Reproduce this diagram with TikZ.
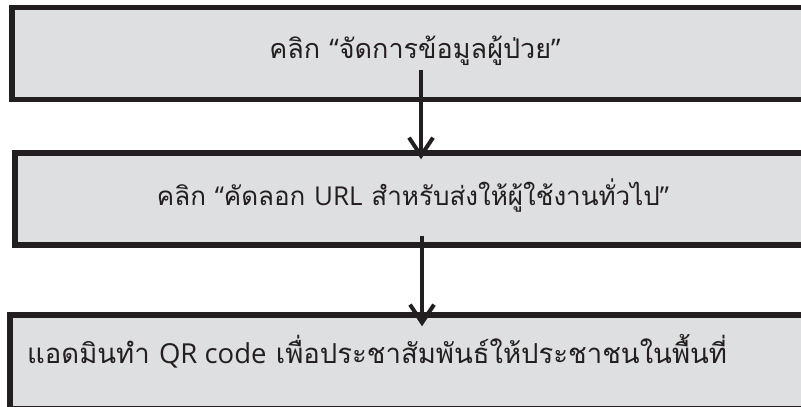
\documentclass[tikz,border=0pt]{standalone}
\usepackage{fontspec}
\newfontfamily\thaifont[Script=Thai]{Loma}
\newfontfamily\latinfont{Open Sans}
\newcommand{\lat}[1]{{\latinfont #1}}
\usetikzlibrary{arrows.meta,calc}
\definecolor{boxfill}{HTML}{DEDFE1}
\definecolor{ink}{HTML}{231F20}
\tikzset{
  stepbox/.style={draw=ink, fill=boxfill, line width=5.5pt, inner sep=0pt, rectangle},
  steptext/.style={anchor=base, inner sep=0pt, text=ink, font=\thaifont\fontsize{26}{30}\selectfont},
  flow/.style={draw=ink, line width=4pt, -{Straight Barb[length=18pt 0 0, width=24pt 0 0, line width=4pt]}}
}
\begin{document}
\begin{tikzpicture}[x=1pt,y=-1pt]
\useasboundingbox (0,0) rectangle (801,407);
\begin{scope}
\clip (0,0) rectangle (801,407);
\node[stepbox, minimum width=806pt, minimum height=92pt] (b1) at (415,53.5) {};
\node[stepbox, minimum width=796pt, minimum height=92pt] (b2) at (413,199) {};
\node[stepbox, minimum width=806pt, minimum height=94pt] (b3) at (413,362) {};
\end{scope}
\node[steptext, font=\thaifont\fontsize{27}{31}\selectfont] (t1) at (415,58) {คลิก \lat{“}จัดการข้อมูลผู้ป่วย\lat{”}};
\node[steptext] (t2) at (413,205) {คลิก \lat{“}คัดลอก \lat{URL} สำหรับส่งให้ผู้ใช้งานทั่วไป\lat{”}};
\node[steptext, anchor=base west, font=\thaifont\fontsize{27.5}{32}\selectfont] (t3) at (27,363) {แอดมินทำ \lat{QR code} เพื่อประชาสัมพันธ์ให้ประชาชนในพื้นที่};
\coordinate (a1s) at (421,70);
\coordinate (a2s) at (422,236);
\draw[flow] (a1s) -- ([yshift=-9pt]b2.north -| a1s);
\draw[flow] (a2s) -- ([yshift=-14pt]b3.north -| a2s);
\end{tikzpicture}
\end{document}
